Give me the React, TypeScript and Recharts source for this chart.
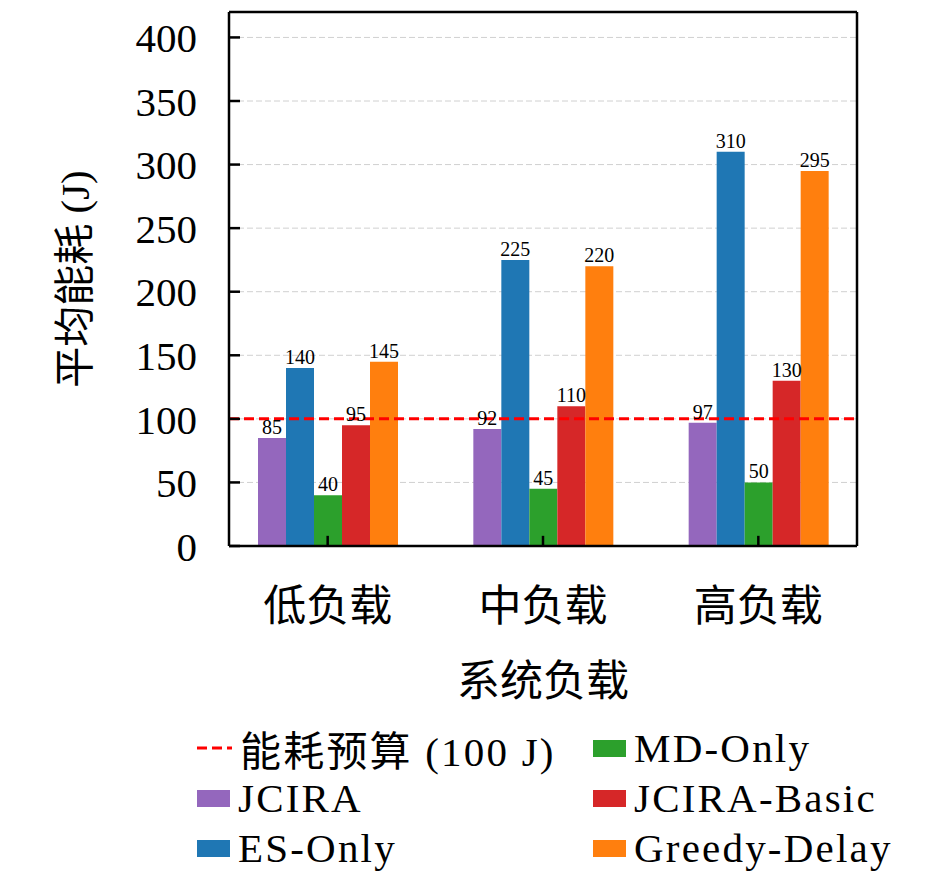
import React from "react";
import {
    BarChart,
    Bar,
    XAxis,
    YAxis,
    CartesianGrid,
    ReferenceLine,
    LabelList,
    Label
} from "recharts";

const categories = ["低负载", "中负载", "高负载"];
const jcira = [85, 92, 97];
const esOnly = [140, 225, 310];
const mdOnly = [40, 45, 50];
const jciraBasic = [95, 110, 130];
const greedyDelay = [145, 220, 295];
const yTicks = [0, 50, 100, 150, 200, 250, 300, 350, 400];
const budget = 100;

const series = [
    { key: "jcira", name: "JCIRA", color: "#9467bd" },
    { key: "esOnly", name: "ES-Only", color: "#1f77b4" },
    { key: "mdOnly", name: "MD-Only", color: "#2ca02c" },
    { key: "jciraBasic", name: "JCIRA-Basic", color: "#d62728" },
    { key: "greedyDelay", name: "Greedy-Delay", color: "#ff7f0e" }
];

const data = categories.map((c, i) => ({
    name: c,
    jcira: jcira[i],
    esOnly: esOnly[i],
    mdOnly: mdOnly[i],
    jciraBasic: jciraBasic[i],
    greedyDelay: greedyDelay[i]
}));

const FONT = "'Liberation Serif', 'Noto Sans CJK SC', serif";
const CJK = "'Noto Sans CJK SC', 'Liberation Serif', serif";

// inward tick length on the x axis, in y units (~10px)
const X_TICK_LEN = 8;

// inward ticks like matplotlib's direction='in'
const YTick = (props: any) => {
    const { x, y, payload } = props;
    const ax = x + 32;
    return (
        <g>
            <path d={`M${ax},${y}h11`} stroke="#000" strokeWidth={2.5} fill="none" />
            <text x={x} y={y} dy="0.36em" textAnchor="end" fontSize={41} fontFamily={FONT} fill="#000">
                {payload.value}
            </text>
        </g>
    );
};

const XTick = (props: any) => {
    const { x, y, payload } = props;
    return (
        <text x={x} y={y + 55} textAnchor="middle" fontSize={43} fontFamily={CJK} fill="#000">
            {payload.value}
        </text>
    );
};

const legendLeft = [
    { name: "能耗预算 (100 J)", color: "#ff0000", line: true },
    { name: "JCIRA", color: "#9467bd" },
    { name: "ES-Only", color: "#1f77b4" }
];
const legendRight = [
    { name: "MD-Only", color: "#2ca02c" },
    { name: "JCIRA-Basic", color: "#d62728" },
    { name: "Greedy-Delay", color: "#ff7f0e" }
];

const LegendRow = ({ item }: any) => (
    <div style={{ display: "flex", alignItems: "center", height: 50 }}>
        {item.line ? (
            <svg width={35} height={16} style={{ marginRight: 8 }}>
                <line x1={0} x2={35} y1={8} y2={8} stroke={item.color} strokeWidth={3} strokeDasharray="10 5" />
            </svg>
        ) : (
            <div style={{ width: 33, height: 17, background: item.color, marginRight: 8 }} />
        )}
        <span style={{ fontSize: 41, fontFamily: FONT, color: "#000", whiteSpace: "nowrap", letterSpacing: 2.2 }}>
            {item.name}
        </span>
    </div>
);

export default function App() {
    return (
        <div style={{ position: "absolute", left: 0, top: 0, width: 945, height: 885, background: "#fff" }}>
            <BarChart
                width={945}
                height={715}
                data={data}
                margin={{ top: 11, right: 87, bottom: 0, left: 109 }}
                barGap={0}
                barSize={28}
            >
                <CartesianGrid vertical={false} stroke="#d0d0d0" strokeDasharray="6 3" strokeWidth={1} />
                <XAxis
                    dataKey="name"
                    height={169}
                    padding={{ left: -9, right: -9 }}
                    tickSize={0}
                    tickMargin={20}
                    tickLine={false}
                    tick={<XTick />}
                    axisLine={{ stroke: "#000", strokeWidth: 2.5 }}
                >
                    <Label
                        content={({ viewBox }: any) => (
                            <text
                                x={viewBox.x + viewBox.width / 2}
                                y={viewBox.y + 150}
                                textAnchor="middle"
                                fontSize={43}
                                fontFamily={CJK}
                                fill="#000"
                            >
                                系统负载
                            </text>
                        )}
                    />
                </XAxis>
                <XAxis xAxisId="top" dataKey="name" orientation="top" height={1} tick={false} tickLine={false} axisLine={{ stroke: "#000", strokeWidth: 2.5 }} />
                <YAxis
                    width={120}
                    domain={[0, 420]}
                    ticks={yTicks}
                    interval={0}
                    tickSize={0}
                    tickMargin={32}
                    tickLine={false}
                    tick={<YTick />}
                    axisLine={{ stroke: "#000", strokeWidth: 2.5 }}
                >
                    <Label
                        content={() => (
                            <text
                                x={75}
                                y={279}
                                transform="rotate(-90, 75, 279)"
                                textAnchor="middle"
                                dominantBaseline="central"
                                fontSize={41}
                                fontFamily={FONT}
                                fill="#000"
                            >
                                平均能耗 (J)
                            </text>
                        )}
                    />
                </YAxis>
                <YAxis yAxisId="right" orientation="right" width={1} domain={[0, 420]} tick={false} tickLine={false} axisLine={{ stroke: "#000", strokeWidth: 2.5 }} />
                {series.map((s) => (
                    <Bar key={s.key} dataKey={s.key} name={s.name} fill={s.color} isAnimationActive={false}>
                        <LabelList dataKey={s.key} position="top" offset={4} fontSize={20} fontFamily={FONT} fill="#000" />
                    </Bar>
                ))}
                <ReferenceLine y={budget} stroke="#ff0000" strokeWidth={3} strokeDasharray="10 5" />
                {categories.map((c) => (
                    <ReferenceLine
                        key={c}
                        segment={[{ x: c, y: 0 }, { x: c, y: X_TICK_LEN }]}
                        stroke="#000"
                        strokeWidth={2.5}
                    />
                ))}
            </BarChart>
            <div style={{ position: "absolute", left: 197, top: 723 }}>
                {legendLeft.map((it) => <LegendRow key={it.name} item={it} />)}
            </div>
            <div style={{ position: "absolute", left: 593, top: 723 }}>
                {legendRight.map((it) => <LegendRow key={it.name} item={it} />)}
            </div>
        </div>
    );
}
